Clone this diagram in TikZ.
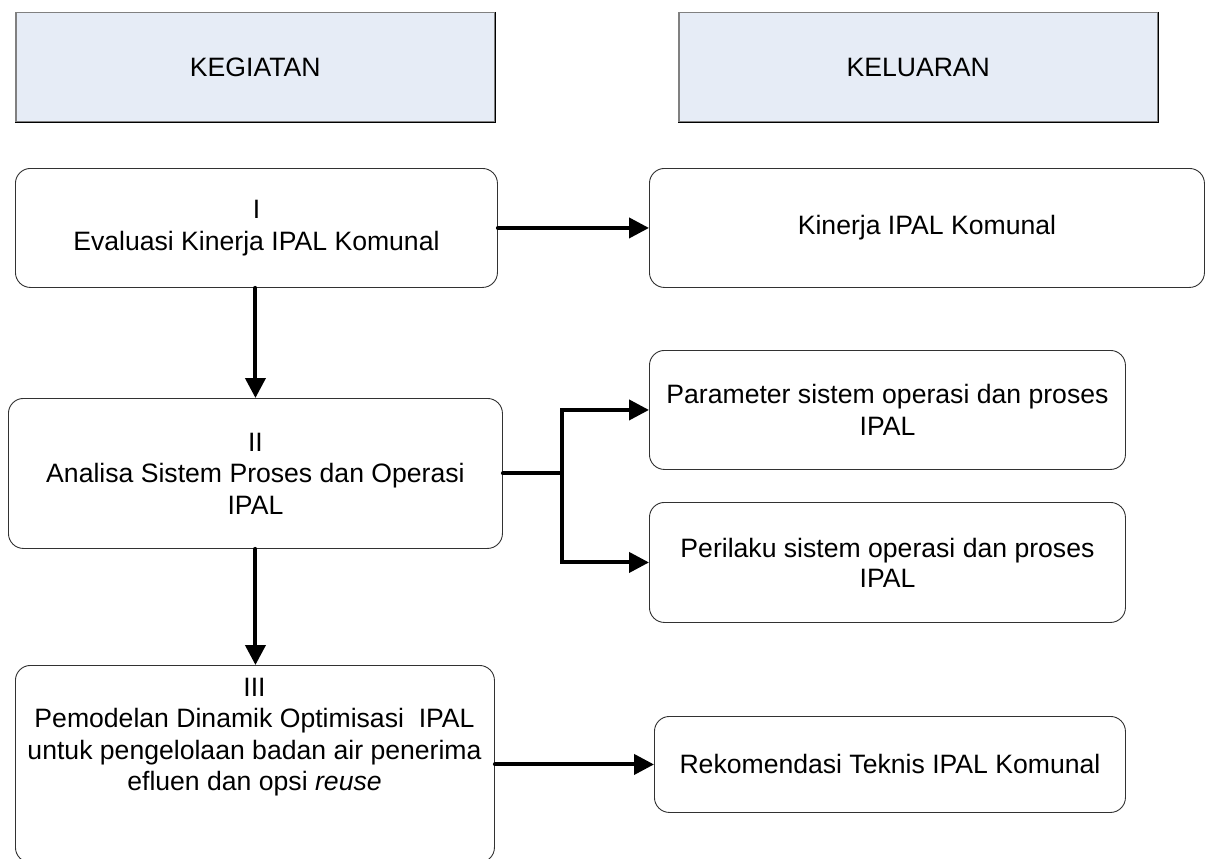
\documentclass[tikz,border=0pt]{standalone}
\usepackage{fontspec}
\setmainfont{Liberation Sans}
\usetikzlibrary{arrows.meta}
\definecolor{hdrfill}{RGB}{230,236,246}
\definecolor{boxline}{RGB}{50,50,50}
\begin{document}
\begin{tikzpicture}[x=1pt,y=-1pt,
  every node/.style={font=\fontsize{26.6}{31.5}\selectfont},
  hdr/.style={draw=gray, line width=1.5pt, fill=hdrfill, minimum width=479pt, minimum height=109pt, anchor=north west, inner sep=0pt},
  rbox/.style={draw=boxline, line width=0.9pt, rounded corners=15pt, anchor=north west, inner sep=0pt, align=center},
  conn/.style={line width=4pt, line cap=round, -{Triangle[length=20pt,width=20pt]}}
]
\useasboundingbox (0,0) rectangle (1211,859);
\clip (0,0) rectangle (1211,859);
\fill[white] (0,0) rectangle (1211,859);

% headers
\node[hdr] (h1) at (15,12) {KEGIATAN};
\draw[black,line width=1.5pt] (h1.north east) -- (h1.south east) -- (h1.south west);
\node[hdr] (h2) at (678,12) {KELUARAN};
\draw[black,line width=1.5pt] (h2.north east) -- (h2.south east) -- (h2.south west);

% boxes
\node[rbox, minimum width=482pt, minimum height=119pt] (b1) at (15,168) {I\\Evaluasi Kinerja IPAL Komunal};
\node[rbox, minimum width=555pt, minimum height=119pt] (k1) at (649,168) {\raisebox{-2pt}{Kinerja IPAL Komunal}};
\node[rbox, minimum width=494pt, minimum height=150pt] (b2) at (8,398) {II\\Analisa Sistem Proses dan Operasi\\IPAL};
\node[rbox, minimum width=476pt, minimum height=119pt] (p) at (649,350) {Parameter sistem operasi dan proses\\IPAL};
\node[rbox, minimum width=476pt, minimum height=120pt] (q) at (649,502) {\raisebox{-3pt}{\shortstack{Perilaku sistem operasi dan proses\\[3pt]IPAL}}};
\node[rbox, minimum width=479pt, minimum height=197pt] (b3) at (15,665) {};
\node[align=center, inner sep=0pt] (t3) at (254.5,737) {III\\Pemodelan Dinamik Optimisasi~ IPAL\\untuk pengelolaan badan air penerima\\efluen dan opsi \textit{reuse}};
\node[rbox, minimum width=471pt, minimum height=96pt] (r) at (654,716) {Rekomendasi Teknis IPAL Komunal};

% connectors
\draw[conn] (b1.east) -- (k1.west);
\draw[conn] (b1.south -| b2.north) -- (b2.north);
\draw[line width=4pt, line cap=round] (b2.east) -- ++(59,0) coordinate (j);
\draw[conn, line cap=butt] (j) |- (p.west);
\draw[conn, line cap=butt] (j) |- (q.west);
\draw[conn] (b2.south) -- (b3.north -| b2.south);
\draw[conn] (b3.east |- r.west) -- (r.west);
\end{tikzpicture}
\end{document}
